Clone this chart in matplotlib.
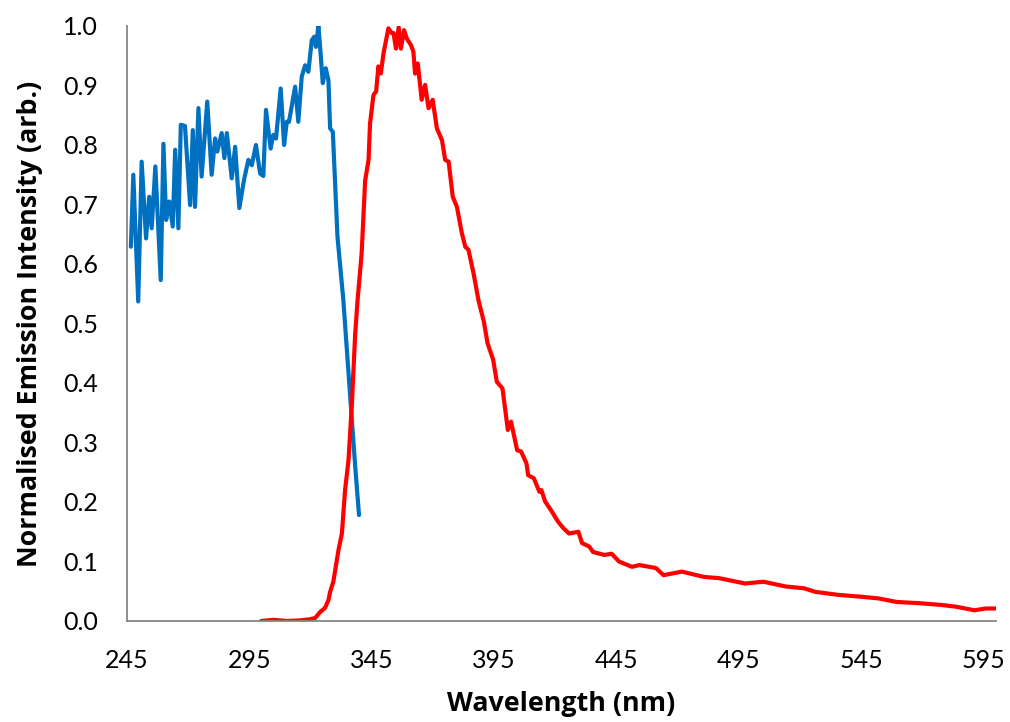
import matplotlib
matplotlib.use("Agg")
import matplotlib.pyplot as plt

# Excitation spectrum (blue)
blue_nm = [246.6, 247.6, 249.6, 251.0, 252.8, 254.1, 255.1, 256.6, 258.8, 259.9,
           261.0, 262.3, 263.7, 264.7, 266.0, 267.0, 268.7, 270.8, 271.9, 272.8,
           274.2, 275.5, 277.8, 279.6, 281.0, 281.9, 283.7, 284.8, 285.8, 287.8,
           289.2, 290.9, 292.8, 294.6, 296.0, 297.7, 299.4, 300.7, 301.8, 303.7,
           304.8, 305.9, 307.8, 309.2, 310.3, 311.2, 313.7, 315.0, 316.4, 317.8,
           319.1, 320.5, 321.5, 322.2, 323.2, 323.9, 325.0, 326.2, 327.3, 328.0,
           329.1, 331.0, 333.4, 336.2, 338.2, 339.8]
blue_int = [0.629, 0.750, 0.537, 0.772, 0.643, 0.713, 0.660, 0.764, 0.573, 0.802,
            0.674, 0.705, 0.663, 0.792, 0.660, 0.834, 0.832, 0.699, 0.825, 0.696,
            0.862, 0.747, 0.873, 0.750, 0.811, 0.789, 0.820, 0.778, 0.820, 0.744,
            0.797, 0.694, 0.741, 0.775, 0.766, 0.800, 0.752, 0.748, 0.859, 0.794,
            0.817, 0.811, 0.895, 0.800, 0.839, 0.839, 0.898, 0.839, 0.915, 0.934,
            0.923, 0.976, 0.982, 0.965, 1.000, 0.965, 0.904, 0.929, 0.909, 0.828,
            0.822, 0.646, 0.539, 0.377, 0.262, 0.178]

# Emission spectrum (red)
red_nm = [299.8, 304.8, 310.3, 315.7, 319.8, 321.9, 323.9, 325.9, 327.3, 328.0,
          329.3, 331.4, 332.8, 334.1, 335.5, 336.9, 338.2, 339.2, 340.3, 340.9,
          342.3, 343.7, 344.3, 345.7, 346.8, 347.7, 348.7, 349.8, 351.8, 353.2,
          353.9, 354.9, 356.0, 356.9, 358.2, 359.3, 361.0, 362.0, 362.7, 363.8,
          365.4, 366.8, 368.2, 369.9, 371.6, 373.7, 375.0, 376.4, 378.1, 379.8,
          381.8, 383.2, 384.5, 386.6, 388.6, 390.8, 392.3, 394.6, 396.1, 398.4,
          400.6, 401.9, 404.4, 406.0, 408.2, 408.9, 411.2, 413.5, 414.3, 415.8,
          418.1, 421.1, 423.3, 425.6, 429.4, 430.9, 433.9, 435.4, 440.0, 443.0,
          446.0, 451.3, 454.3, 461.1, 464.2, 471.7, 480.8, 486.9, 497.5, 505.0,
          514.1, 521.6, 526.2, 535.3, 544.3, 551.9, 559.4, 568.5, 577.6, 583.7,
          591.2, 595.8, 600.0]
red_int = [0.000, 0.002, 0.000, 0.001, 0.003, 0.005, 0.015, 0.022, 0.035, 0.049,
           0.066, 0.119, 0.147, 0.220, 0.270, 0.366, 0.480, 0.539, 0.590, 0.620,
           0.740, 0.775, 0.836, 0.884, 0.890, 0.932, 0.920, 0.954, 0.996, 0.988,
           0.988, 0.962, 0.998, 0.962, 0.993, 0.979, 0.968, 0.957, 0.920, 0.937,
           0.876, 0.901, 0.862, 0.876, 0.828, 0.808, 0.775, 0.772, 0.713, 0.696,
           0.652, 0.629, 0.624, 0.584, 0.539, 0.503, 0.467, 0.439, 0.402, 0.391,
           0.321, 0.335, 0.287, 0.285, 0.265, 0.245, 0.240, 0.217, 0.220, 0.201,
           0.187, 0.167, 0.156, 0.147, 0.150, 0.131, 0.125, 0.116, 0.111, 0.113,
           0.100, 0.091, 0.094, 0.089, 0.077, 0.083, 0.074, 0.072, 0.063, 0.066,
           0.058, 0.055, 0.049, 0.044, 0.041, 0.038, 0.032, 0.030, 0.027, 0.024,
           0.018, 0.021, 0.021]

x_ticks = [245, 295, 345, 395, 445, 495, 545, 595]
y_ticks = [0.0, 0.1, 0.2, 0.3, 0.4, 0.5, 0.6, 0.7, 0.8, 0.9, 1.0]

plt.rcParams['font.family'] = ['Lato', 'DejaVu Sans']

fig = plt.figure(figsize=(10.1, 7.22), dpi=100)
ax = fig.add_axes([0.1257, 0.1399, 0.8604, 0.8241])

ax.plot(blue_nm, blue_int, color='#0070C0', lw=3.0, solid_joinstyle='round',
        solid_capstyle='round')
ax.plot(red_nm, red_int, color='#FF0000', lw=3.0, solid_joinstyle='round',
        solid_capstyle='round')

ax.set_xlim(245, 600)
ax.set_ylim(0, 1.0)
ax.set_xticks(x_ticks)
ax.set_xticklabels([str(t) for t in x_ticks])
ax.set_yticks(y_ticks)
ax.set_yticklabels([f"{t:.1f}" for t in y_ticks])

for side in ('top', 'right'):
    ax.spines[side].set_visible(False)
for side in ('left', 'bottom'):
    ax.spines[side].set_color('#868686')
    ax.spines[side].set_linewidth(1.3)

ax.tick_params(axis='both', length=0, labelsize=18, colors='black')
ax.tick_params(axis='x', pad=20)
ax.tick_params(axis='y', pad=21)

label_font = dict(family=['Open Sans', 'DejaVu Sans'], fontsize=19.3,
                  fontweight='bold')
ax.set_xlabel('Wavelength (nm)', labelpad=14, **label_font)
ax.set_ylabel('Normalised Emission Intensity (arb.)', labelpad=14, **label_font)

fig.savefig('out.png', dpi=100)
